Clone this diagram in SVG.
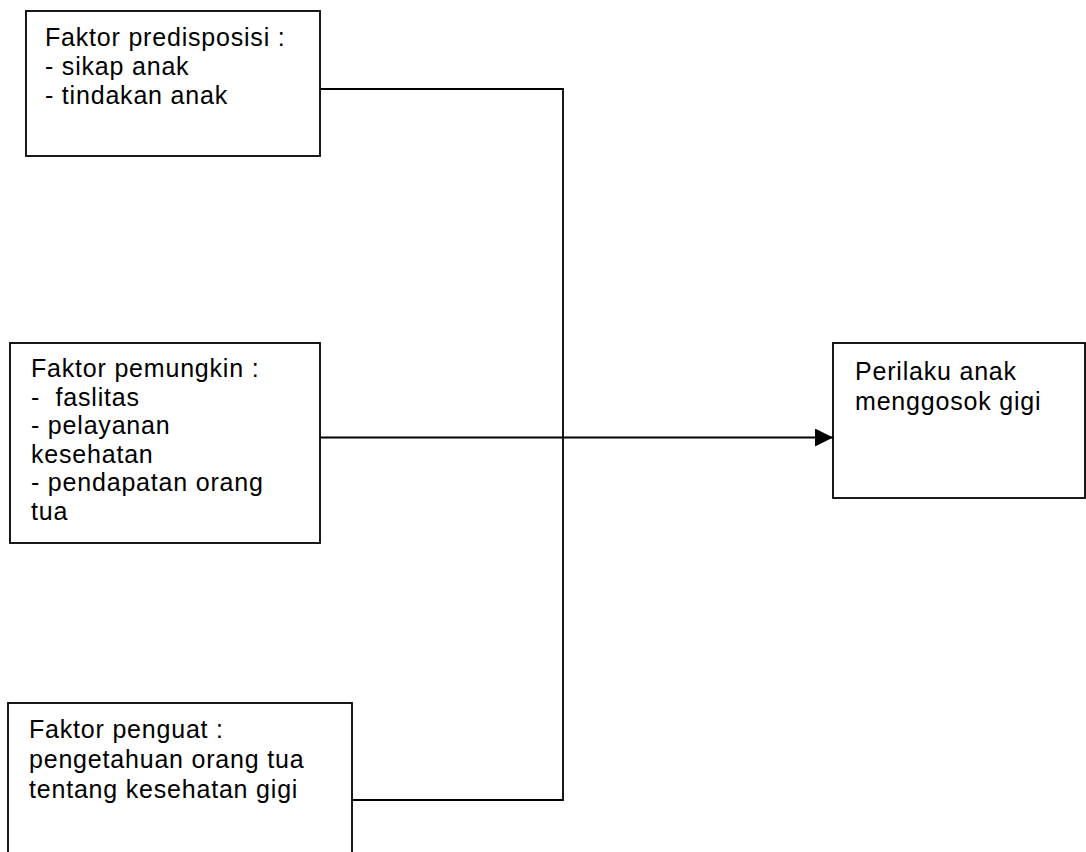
<svg xmlns="http://www.w3.org/2000/svg" width="1086" height="852" viewBox="0 0 1086 852">
<defs>
<style>
.box{fill:#fff;stroke:#000;stroke-width:1.8}
.t{font-family:"Liberation Sans",Arial,sans-serif;font-size:25px;letter-spacing:0.8px;fill:#000}
.c{fill:none;stroke:#000;stroke-width:1.8}
</style>
<marker id="arr" markerUnits="userSpaceOnUse" markerWidth="18" markerHeight="18" viewBox="0 0 16 16" refX="16" refY="8" orient="auto">
<path d="M0,0 L16,8 L0,16 Z" fill="#000"/>
</marker>
</defs>
<rect width="1086" height="852" fill="#fff"/>
<g id="connectors">
<polyline class="c" points="320,89 563,89 563,800 352,800"/>
<line class="c" x1="320" y1="437.5" x2="833" y2="437.5" marker-end="url(#arr)"/>
</g>
<g id="node-predisposisi">
<rect class="box" x="26" y="11" width="294" height="145"/>
<text class="t" x="45" y="46">Faktor predisposisi :</text>
<text class="t" x="45" y="75">- sikap anak</text>
<text class="t" x="45" y="104">- tindakan anak</text>
</g>
<g id="node-pemungkin">
<rect class="box" x="10" y="343" width="310" height="200"/>
<text class="t" x="31" y="377" xml:space="preserve">Faktor pemungkin :</text>
<text class="t" x="31" y="405.5" xml:space="preserve">-  faslitas</text>
<text class="t" x="31" y="434">- pelayanan</text>
<text class="t" x="31" y="462.5">kesehatan</text>
<text class="t" x="31" y="491">- pendapatan orang</text>
<text class="t" x="31" y="519.5">tua</text>
</g>
<g id="node-penguat">
<rect class="box" x="8" y="703" width="344" height="170"/>
<text class="t" x="29" y="738">Faktor penguat :</text>
<text class="t" x="29" y="768">pengetahuan orang tua</text>
<text class="t" x="29" y="798">tentang kesehatan gigi</text>
</g>
<g id="node-perilaku">
<rect class="box" x="833" y="343" width="252" height="155"/>
<text class="t" x="855" y="380">Perilaku anak</text>
<text class="t" x="855" y="410">menggosok gigi</text>
</g>
</svg>
